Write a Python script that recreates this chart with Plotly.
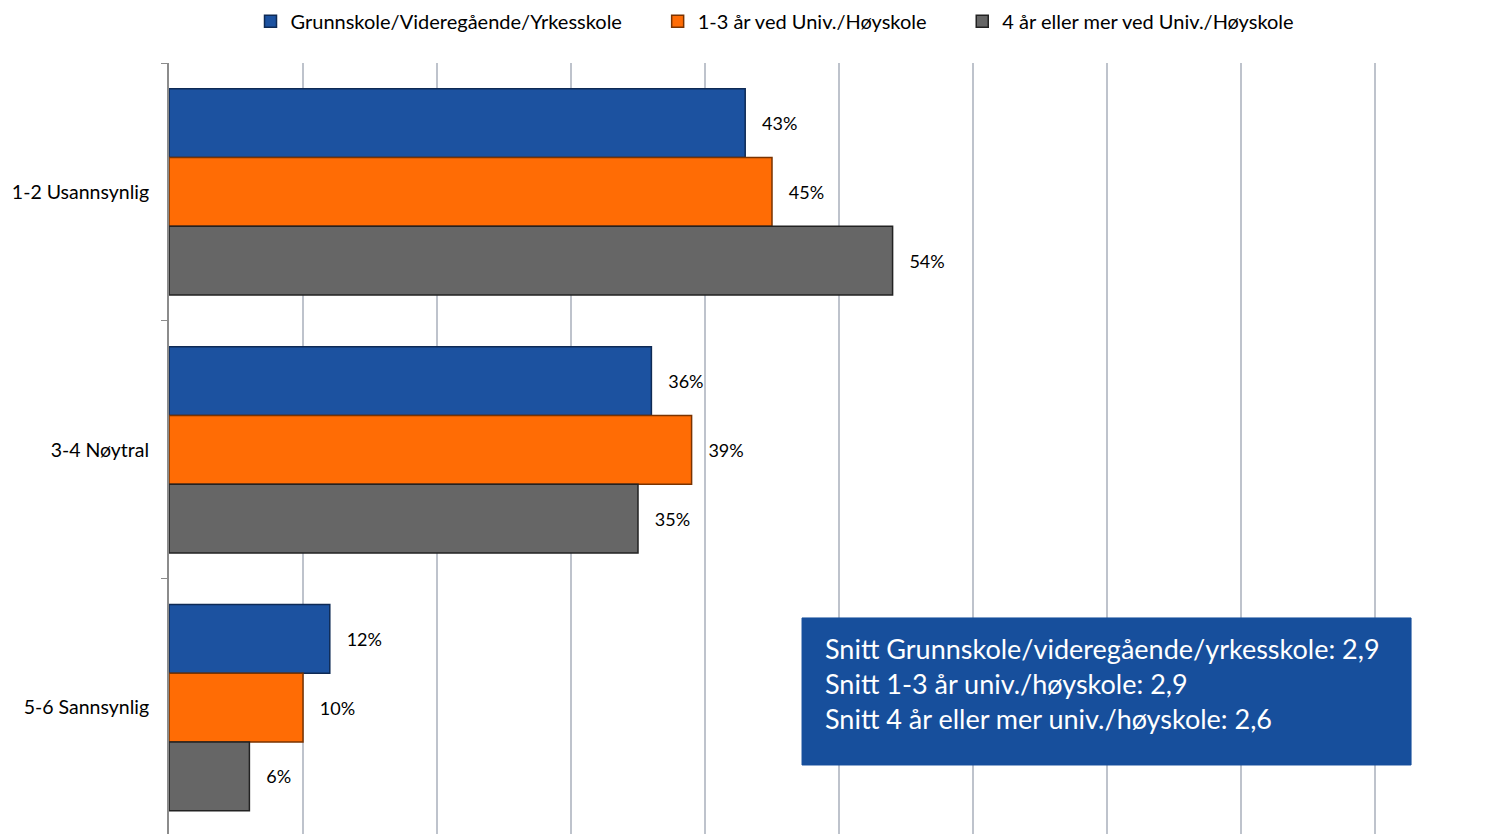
import plotly.graph_objects as go

categories = ["1-2 Usannsynlig", "3-4 Nøytral", "5-6 Sannsynlig"]
series_names = [
    "Grunnskole/Videregående/Yrkesskole",
    "1-3 år ved Univ./Høyskole",
    "4 år eller mer ved Univ./Høyskole",
]
grunnskole = [0.43, 0.36, 0.12]
univ_1_3 = [0.45, 0.39, 0.10]
univ_4 = [0.54, 0.35, 0.06]

snitt_text = [
    "Snitt Grunnskole/videregående/yrkesskole: 2,9",
    "Snitt 1-3 år univ./høyskole: 2,9",
    "Snitt 4 år eller mer univ./høyskole: 2,6",
]

colors = ["#1C52A0", "#FF6C05", "#666666"]
edge_colors = ["#0E2A55", "#7A3300", "#222222"]

FONT = "Lato"
PAD = "\u00a0" * 6  # extra room between legend entries

fig = go.Figure()
series = [grunnskole, univ_1_3, univ_4]
for i, (name, vals, col, edge) in enumerate(zip(series_names, series, colors, edge_colors)):
    fig.add_trace(go.Bar(
        y=categories,
        x=vals,
        name=name + (PAD if i < 2 else ""),
        orientation="h",
        marker=dict(color=col, line=dict(color=edge, width=1.5)),
        text=[f"   {round(v * 100)}%" for v in vals],
        textposition="outside",
        textfont=dict(family=FONT, size=18, color="#000000"),
        cliponaxis=False,
    ))

# info box
fig.add_shape(type="rect", xref="x", yref="paper",
              x0=0.4724, x1=0.9269, y0=0.0895, y1=0.2802,
              fillcolor="#174F9C", line=dict(color="#174F9C", width=1), layer="above")
fig.add_annotation(xref="x", yref="paper", x=0.488, y=0.264,
                   xanchor="left", yanchor="top", align="left", showarrow=False,
                   text="<br>".join(snitt_text),
                   font=dict(family=FONT, size=27, color="white"))

# page body has an 8px margin, so the figure is 8px smaller each way
fig.update_layout(
    width=1501, height=826,
    barmode="group", bargap=0.2, bargroupgap=0,
    plot_bgcolor="white", paper_bgcolor="white",
    margin=dict(l=161, r=0, t=55, b=0),
    font=dict(family=FONT, size=18, color="#000000"),
    showlegend=True,
    legend=dict(orientation="h", x=0.511, xanchor="center", xref="container",
                y=0.984, yanchor="middle", yref="container",
                font=dict(family=FONT, size=20), traceorder="normal"),
    xaxis=dict(range=[0, 1], dtick=0.1, showticklabels=False,
               showgrid=True, gridcolor="#BEC3CC", gridwidth=1.5,
               zeroline=False, showline=False),
    yaxis=dict(range=[2.49, -0.5], type="category",
               showline=True, linecolor="#8C8C8C", linewidth=2,
               ticks="outside", tickson="boundaries", ticklen=6, tickcolor="#8C8C8C",
               ticklabelstandoff=14,
               tickfont=dict(family=FONT, size=19.5), showgrid=False),
)

fig.write_html("out.html")
